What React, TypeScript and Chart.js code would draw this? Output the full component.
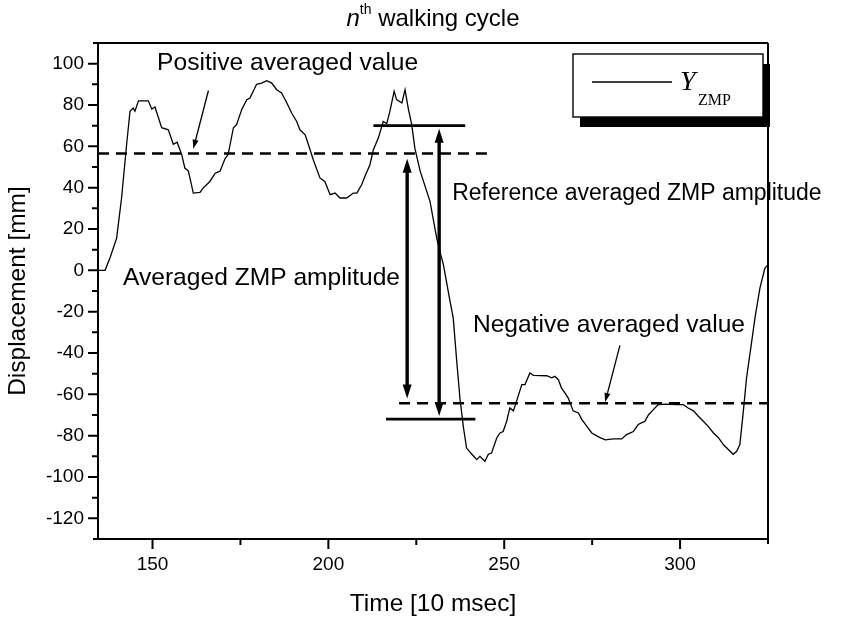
import React, { useEffect, useRef } from "react";
import { Chart, registerables } from "chart.js";

Chart.register(...registerables);

// Sample times [10 msec] and lateral ZMP displacement [mm] for one walking cycle
const timeSteps = [
  134.5, 136.5, 137.9, 139.8, 141.2, 142.7, 143.6, 144.5, 145.0, 146.0, 148.8, 149.8, 150.7,
  152.6, 154.5, 155.9, 157.0, 158.3, 159.2, 160.2, 161.6, 163.5, 164.4, 166.3, 167.8, 169.2,
  170.6, 171.5, 173.0, 173.9, 175.4, 176.8, 177.7, 179.6, 181.0, 182.5, 183.9, 185.3, 186.7,
  188.2, 189.6, 191.0, 191.9, 193.4, 194.3, 195.7, 197.6, 199.0, 200.5, 201.9, 203.3, 205.2,
  207.1, 208.1, 209.5, 210.4, 211.8, 212.8, 214.2, 215.6, 216.6, 217.5, 218.7, 219.4, 220.9,
  221.8, 222.7, 223.7, 224.6, 226.1, 228.9, 230.8, 231.7, 232.7, 234.6, 235.5, 236.5, 237.4,
  238.4, 239.3, 240.8, 242.2, 243.1, 244.5, 245.5, 246.4, 247.9, 248.8, 249.7, 250.7, 251.6,
  252.6, 253.5, 255.0, 255.9, 257.3, 258.3, 262.1, 263.5, 264.4, 265.4, 266.3, 267.3, 268.2,
  269.6, 271.1, 272.0, 273.5, 274.9, 276.8, 278.7, 281.0, 283.4, 284.8, 286.7, 288.1, 290.0,
  291.0, 292.4, 293.8, 296.2, 299.0, 300.9, 302.3, 303.8, 305.2, 306.6, 308.0, 309.5, 310.9,
  312.3, 313.7, 315.1, 316.1, 317.0, 318.0, 318.9, 320.4, 321.3, 322.7, 324.1, 325.0,
];

const yZmp = [
  0, 0, 6, 15.6, 35, 62, 77, 78.5, 77, 82, 82, 78, 79,
  69, 68, 61, 62, 56, 49.5, 48, 37.4, 37.7, 39.8, 43, 47, 48,
  54, 56, 69, 70.5, 78, 82.6, 83.4, 90, 90.6, 91.8, 90.6, 87.4, 85.8,
  81, 76, 72, 68, 65.6, 61, 53.5, 44.7, 43, 36.6, 37.4, 35, 35,
  37.4, 37.4, 41.5, 45.5, 51, 58.4, 64, 72, 71, 77, 86.6, 82.6, 81,
  87.4, 78.5, 70.5, 59, 48, 33.4, 15.6, 9.2, 2.8, -15, -23, -44, -61.8,
  -76, -86, -89, -91.6, -90, -92.4, -89, -88.4, -81, -78.7, -78, -73, -66.6,
  -68, -63.4, -55.3, -55.3, -49.7, -50.8, -51, -52, -51.3, -52.9, -57, -59.4, -61.8,
  -68, -69, -72, -75.5, -78.7, -80.6, -82, -81.6, -81.6, -79.5, -78, -74.6, -73,
  -70, -67.4, -65, -64.7, -65, -65, -66.6, -68, -70.6, -73, -75.5, -78.7, -81,
  -84.3, -86.7, -89, -87.6, -84.3, -68, -52, -34, -23, -8.6, 1, 2.8,
];

// Axis ranges and tick values
const xRange = [134.5, 325];
const yRange = [-130, 110];
const xTicks = [150, 200, 250, 300];
const xMinorTicks = [175, 225, 275];
const yTicks = [-120, -100, -80, -60, -40, -20, 0, 20, 40, 60, 80, 100];
const yMinorTicks = [-110, -90, -70, -50, -30, -10, 10, 30, 50, 70, 90];

// Averaged levels (dashed) and reference levels (solid)
const positiveAverage = 56.5;
const negativeAverage = -64.3;
const referenceTop = 70;
const referenceBottom = -72;
const positiveSpan = [134.5, 245.1];
const negativeSpan = [220.1, 325];
const referenceTopSpan = [212.8, 238.9];
const referenceBottomSpan = [216.4, 241.8];

// Double-headed amplitude arrows: [time, upper tip, lower tip]
const averagedArrow = [222.4, 54, -62];
const referenceArrow = [231.5, 68.5, -70.5];

// Pointer arrows: [fromTime, fromValue, toTime, toValue]
const positivePointer = [165.9, 87, 161.6, 58.8];
const negativePointer = [282.9, -36.3, 278.7, -63.7];

// Annotation texts, left-anchored at [time, value], with font size
const annotationLabels = ["Positive averaged value", "Averaged ZMP amplitude", "Reference averaged ZMP amplitude", "Negative averaged value"];
const annotationAnchors = [
  [151.3, 100.1],
  [141.6, -3.9],
  [235.2, 37.2],
  [241.1, -26.6],
];
const annotationSizes = [24.6, 24.6, 23, 24.6];

const SANS = '"Liberation Sans", Arial, sans-serif';
const SERIF = '"Liberation Serif", "Times New Roman", serif';

function arrowHead(ctx: CanvasRenderingContext2D, tx: number, ty: number, fx: number, fy: number, len: number, half: number) {
  const dx = tx - fx;
  const dy = ty - fy;
  const d = Math.hypot(dx, dy) || 1;
  const ux = dx / d;
  const uy = dy / d;
  const bx = tx - ux * len;
  const by = ty - uy * len;
  ctx.beginPath();
  ctx.moveTo(tx, ty);
  ctx.lineTo(bx - uy * half, by + ux * half);
  ctx.lineTo(bx + uy * half, by - ux * half);
  ctx.closePath();
  ctx.fill();
}

const decorations = {
  id: "zmpDecorations",
  afterDatasetsDraw(chart: any) {
    const { ctx } = chart;
    const xs = chart.scales.x;
    const ys = chart.scales.y;
    const X = (v: number) => xs.getPixelForValue(v);
    const Y = (v: number) => ys.getPixelForValue(v);
    ctx.save();
    ctx.strokeStyle = "#000";
    ctx.fillStyle = "#000";

    // dashed averaged levels
    ctx.lineWidth = 2.6;
    ctx.setLineDash([11, 7]);
    ctx.beginPath();
    ctx.moveTo(X(positiveSpan[0]), Y(positiveAverage));
    ctx.lineTo(X(positiveSpan[1]), Y(positiveAverage));
    ctx.stroke();
    ctx.beginPath();
    ctx.moveTo(X(negativeSpan[0]), Y(negativeAverage));
    ctx.lineTo(X(negativeSpan[1]), Y(negativeAverage));
    ctx.stroke();
    ctx.setLineDash([]);

    // solid reference levels
    ctx.lineWidth = 2.6;
    ctx.beginPath();
    ctx.moveTo(X(referenceTopSpan[0]), Y(referenceTop));
    ctx.lineTo(X(referenceTopSpan[1]), Y(referenceTop));
    ctx.moveTo(X(referenceBottomSpan[0]), Y(referenceBottom));
    ctx.lineTo(X(referenceBottomSpan[1]), Y(referenceBottom));
    ctx.stroke();

    // double-headed amplitude arrows
    [averagedArrow, referenceArrow].forEach(([t, top, bottom]) => {
      const x = X(t);
      const y1 = Y(top);
      const y2 = Y(bottom);
      ctx.lineWidth = 3.4;
      ctx.beginPath();
      ctx.moveTo(x, y1 + 10);
      ctx.lineTo(x, y2 - 10);
      ctx.stroke();
      arrowHead(ctx, x, y1, x, y2, 14, 4.5);
      arrowHead(ctx, x, y2, x, y1, 14, 4.5);
    });

    // thin pointer arrows
    [positivePointer, negativePointer].forEach(([t1, v1, t2, v2]) => {
      const x1 = X(t1), y1 = Y(v1), x2 = X(t2), y2 = Y(v2);
      ctx.lineWidth = 1.3;
      ctx.beginPath();
      ctx.moveTo(x1, y1);
      ctx.lineTo(x2 + (x1 - x2) * 0.1, y2 + (y1 - y2) * 0.1);
      ctx.stroke();
      arrowHead(ctx, x2, y2, x1, y1, 9, 3);
    });

    // annotation texts
    ctx.textAlign = "left";
    ctx.textBaseline = "middle";
    annotationLabels.forEach((label, i) => {
      const [t, v] = annotationAnchors[i];
      ctx.font = `${annotationSizes[i]}px ${SANS}`;
      ctx.fillText(label, X(t), Y(v));
    });

    // legend box with drop shadow
    const lx = 573, ly = 54, lw = 190, lh = 63;
    ctx.fillRect(lx + 7, ly + 10, lw, lh);
    ctx.fillStyle = "#fff";
    ctx.fillRect(lx, ly, lw, lh);
    ctx.fillStyle = "#000";
    ctx.lineWidth = 1.4;
    ctx.strokeRect(lx, ly, lw, lh);
    ctx.beginPath();
    ctx.moveTo(592, 82);
    ctx.lineTo(672, 82);
    ctx.stroke();
    ctx.textAlign = "left";
    ctx.textBaseline = "alphabetic";
    ctx.font = `italic 28px ${SERIF}`;
    ctx.fillText("Y", 680, 90);
    ctx.font = `16px ${SERIF}`;
    ctx.fillText("ZMP", 698, 105);

    ctx.restore();
  },
  afterDraw(chart: any) {
    const { ctx, chartArea } = chart;
    const xs = chart.scales.x;
    const ys = chart.scales.y;
    const { left, right, top, bottom } = chartArea;
    ctx.save();
    ctx.strokeStyle = "#000";
    ctx.fillStyle = "#000";

    // frame
    ctx.lineWidth = 2;
    ctx.beginPath();
    ctx.moveTo(left - 5, top);
    ctx.lineTo(right, top);
    ctx.moveTo(right, top);
    ctx.lineTo(right, bottom + 5);
    ctx.moveTo(left - 5, bottom);
    ctx.lineTo(right, bottom);
    ctx.moveTo(left, top);
    ctx.lineTo(left, bottom);
    ctx.stroke();

    // ticks
    ctx.beginPath();
    yTicks.forEach((v) => {
      const y = ys.getPixelForValue(v);
      ctx.moveTo(left - 10, y);
      ctx.lineTo(left, y);
    });
    yMinorTicks.forEach((v) => {
      const y = ys.getPixelForValue(v);
      ctx.moveTo(left - 6, y);
      ctx.lineTo(left, y);
    });
    xTicks.forEach((v) => {
      const x = xs.getPixelForValue(v);
      ctx.moveTo(x, bottom);
      ctx.lineTo(x, bottom + 10);
    });
    xMinorTicks.forEach((v) => {
      const x = xs.getPixelForValue(v);
      ctx.moveTo(x, bottom);
      ctx.lineTo(x, bottom + 6);
    });
    ctx.stroke();

    // tick labels
    ctx.font = `19px ${SANS}`;
    ctx.textBaseline = "middle";
    ctx.textAlign = "right";
    yTicks.forEach((v) => {
      ctx.fillText(String(v), left - 14, ys.getPixelForValue(v));
    });
    ctx.textAlign = "center";
    xTicks.forEach((v) => {
      ctx.fillText(String(v), xs.getPixelForValue(v), bottom + 26);
    });

    // axis titles
    ctx.font = `24.5px ${SANS}`;
    ctx.fillText("Time [10 msec]", (left + right) / 2, 604);
    ctx.save();
    ctx.translate(18, (top + bottom) / 2);
    ctx.rotate(-Math.PI / 2);
    ctx.fillText("Displacement [mm]", 0, 0);
    ctx.restore();

    // chart title with superscript
    const cx = (left + right) / 2;
    const base = 26;
    ctx.textBaseline = "alphabetic";
    ctx.textAlign = "left";
    const big = `24px ${SANS}`;
    const it = `italic 24px ${SANS}`;
    const sup = `14px ${SANS}`;
    ctx.font = it;
    const wN = ctx.measureText("n").width;
    ctx.font = sup;
    const wTh = ctx.measureText("th").width;
    ctx.font = big;
    const wRest = ctx.measureText(" walking cycle").width;
    let x0 = cx - (wN + wTh + wRest) / 2;
    ctx.font = it;
    ctx.fillText("n", x0, base);
    x0 += wN;
    ctx.font = sup;
    ctx.fillText("th", x0, base - 12);
    x0 += wTh;
    ctx.font = big;
    ctx.fillText(" walking cycle", x0, base);

    ctx.restore();
  },
};

export default function App() {
  const canvasRef = useRef<HTMLCanvasElement | null>(null);

  useEffect(() => {
    const canvas = canvasRef.current;
    if (!canvas) return;
    const chart = new Chart(canvas, {
      type: "line",
      data: {
        datasets: [
          {
            label: "Y ZMP",
            data: timeSteps.map((t, i) => ({ x: t, y: yZmp[i] })),
            borderColor: "#000",
            borderWidth: 1.3,
            pointRadius: 0,
            tension: 0,
            fill: false,
          },
        ],
      },
      options: {
        animation: false,
        responsive: false,
        devicePixelRatio: 1,
        layout: { padding: { left: 98, top: 43, right: 87, bottom: 84 } },
        plugins: { legend: { display: false }, tooltip: { enabled: false }, title: { display: false } },
        scales: {
          x: { type: "linear", min: xRange[0], max: xRange[1], display: false },
          y: { type: "linear", min: yRange[0], max: yRange[1], display: false },
        },
      },
      plugins: [decorations],
    });
    return () => chart.destroy();
  }, []);

  return (
    <div style={{ position: "fixed", left: 0, top: 0, width: 855, height: 623, background: "#fff" }}>
      <canvas ref={canvasRef} width={855} height={623} style={{ width: 855, height: 623 }} />
    </div>
  );
}
